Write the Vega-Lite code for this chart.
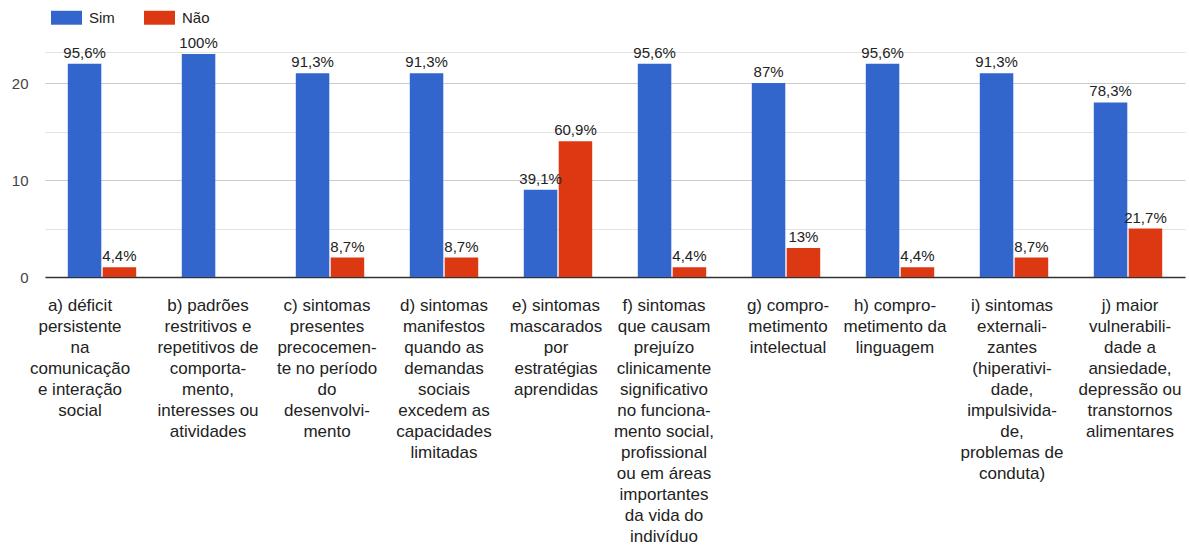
{
  "$schema": "https://vega.github.io/schema/vega-lite/v6.json",
  "autosize": {"type": "none"},
  "width": 1140,
  "height": 225,
  "padding": {"left": 45, "top": 52, "right": 4, "bottom": 270},
  "background": "white",
  "config": {
    "view": {"stroke": null},
    "font": "Liberation Sans"
  },
  "data": {
    "values": [
      {"cat": "a) déficit|persistente|na|comunicação|e interação|social", "serie": "Sim", "n": 22, "pct": "95,6%"},
      {"cat": "a) déficit|persistente|na|comunicação|e interação|social", "serie": "Não", "n": 1, "pct": "4,4%"},
      {"cat": "b) padrões|restritivos e|repetitivos de|comporta-|mento,|interesses ou|atividades", "serie": "Sim", "n": 23, "pct": "100%"},
      {"cat": "b) padrões|restritivos e|repetitivos de|comporta-|mento,|interesses ou|atividades", "serie": "Não", "n": 0, "pct": ""},
      {"cat": "c) sintomas|presentes|precocemen-|te no período|do|desenvolvi-|mento", "serie": "Sim", "n": 21, "pct": "91,3%"},
      {"cat": "c) sintomas|presentes|precocemen-|te no período|do|desenvolvi-|mento", "serie": "Não", "n": 2, "pct": "8,7%"},
      {"cat": "d) sintomas|manifestos|quando as|demandas|sociais|excedem as|capacidades|limitadas", "serie": "Sim", "n": 21, "pct": "91,3%"},
      {"cat": "d) sintomas|manifestos|quando as|demandas|sociais|excedem as|capacidades|limitadas", "serie": "Não", "n": 2, "pct": "8,7%"},
      {"cat": "e) sintomas|mascarados|por|estratégias|aprendidas", "serie": "Sim", "n": 9, "pct": "39,1%"},
      {"cat": "e) sintomas|mascarados|por|estratégias|aprendidas", "serie": "Não", "n": 14, "pct": "60,9%"},
      {"cat": "f) sintomas|que causam|prejuízo|clinicamente|significativo|no funciona-|mento social,|profissional|ou em áreas|importantes|da vida do|indivíduo", "serie": "Sim", "n": 22, "pct": "95,6%"},
      {"cat": "f) sintomas|que causam|prejuízo|clinicamente|significativo|no funciona-|mento social,|profissional|ou em áreas|importantes|da vida do|indivíduo", "serie": "Não", "n": 1, "pct": "4,4%"},
      {"cat": "g) compro-|metimento|intelectual", "serie": "Sim", "n": 20, "pct": "87%"},
      {"cat": "g) compro-|metimento|intelectual", "serie": "Não", "n": 3, "pct": "13%"},
      {"cat": "h) compro-|metimento da|linguagem", "serie": "Sim", "n": 22, "pct": "95,6%"},
      {"cat": "h) compro-|metimento da|linguagem", "serie": "Não", "n": 1, "pct": "4,4%"},
      {"cat": "i) sintomas|externali-|zantes|(hiperativi-|dade,|impulsivida-|de,|problemas de|conduta)", "serie": "Sim", "n": 21, "pct": "91,3%"},
      {"cat": "i) sintomas|externali-|zantes|(hiperativi-|dade,|impulsivida-|de,|problemas de|conduta)", "serie": "Não", "n": 2, "pct": "8,7%"},
      {"cat": "j) maior|vulnerabili-|dade a|ansiedade,|depressão ou|transtornos|alimentares", "serie": "Sim", "n": 18, "pct": "78,3%"},
      {"cat": "j) maior|vulnerabili-|dade a|ansiedade,|depressão ou|transtornos|alimentares", "serie": "Não", "n": 5, "pct": "21,7%"}
    ]
  },
  "encoding": {
    "x": {
      "field": "cat",
      "type": "nominal",
      "sort": null,
      "scale": {"paddingInner": 0.4, "paddingOuter": 0.2},
      "axis": {
        "title": null,
        "labelAngle": 0,
        "labelExpr": "split(datum.label, '|')",
        "labelFontSize": 17,
        "labelLineHeight": 21,
        "labelColor": "#222222",
        "labelBaseline": "top",
        "labelPadding": 20,
        "labelLimit": 0,
        "ticks": false,
        "domainColor": "#333333",
        "domainWidth": 1.5,
        "labelFont": "Liberation Sans",
        "labelOffset": {
          "condition": [
            {"test": "substring(datum.value,0,1) == 'a'", "value": -22},
            {"test": "substring(datum.value,0,1) == 'b'", "value": -8},
            {"test": "substring(datum.value,0,1) == 'c'", "value": -3},
            {"test": "substring(datum.value,0,1) == 'e'", "value": -2},
            {"test": "substring(datum.value,0,1) == 'f'", "value": -8},
            {"test": "substring(datum.value,0,1) == 'g'", "value": 2},
            {"test": "substring(datum.value,0,1) == 'h'", "value": -5},
            {"test": "substring(datum.value,0,1) == 'i'", "value": -2},
            {"test": "substring(datum.value,0,1) == 'j'", "value": 2}
          ],
          "value": 0
        }
      }
    },
    "xOffset": {
      "field": "serie",
      "type": "nominal",
      "sort": ["Sim", "Não"],
      "scale": {"paddingInner": 0.04}
    },
    "y": {
      "field": "n",
      "type": "quantitative",
      "scale": {"domain": [0, 23.2], "nice": false, "zero": true},
      "axis": {
        "title": null,
        "values": [0, 5, 10, 15, 20, 23.2],
        "labelExpr": "datum.value % 10 == 0 ? datum.label : ''",
        "labelFontSize": 15,
        "labelColor": "#444444",
        "labelPadding": 17,
        "domain": false,
        "ticks": false,
        "gridColor": {"condition": {"test": "datum.value % 10 == 0", "value": "#cccccc"}, "value": "#e3e3e3"},
        "gridWidth": 1.2
      }
    }
  },
  "layer": [
    {
      "mark": {"type": "bar"},
      "encoding": {
        "color": {
          "field": "serie",
          "type": "nominal",
          "sort": ["Sim", "Não"],
          "scale": {"domain": ["Sim", "Não"], "range": ["#3366cc", "#dc3912"]},
          "legend": {
            "title": null,
            "orient": "none",
            "legendX": 6,
            "legendY": -50,
            "direction": "horizontal",
            "symbolType": "M-1,-0.45L1,-0.45L1,0.45L-1,0.45Z",
            "symbolSize": 961,
            "symbolStrokeWidth": 0,
            "symbolOpacity": 1,
            "labelFontSize": 15,
            "labelColor": "#222222",
            "labelOffset": 7,
            "columnPadding": 29,
            "labelFont": "Liberation Sans"
          }
        }
      }
    },
    {
      "mark": {"type": "text", "baseline": "alphabetic", "dy": -6, "fontSize": 15, "color": "#222222", "font": "Liberation Sans"},
      "encoding": {
        "text": {"field": "pct"}
      }
    }
  ]
}
